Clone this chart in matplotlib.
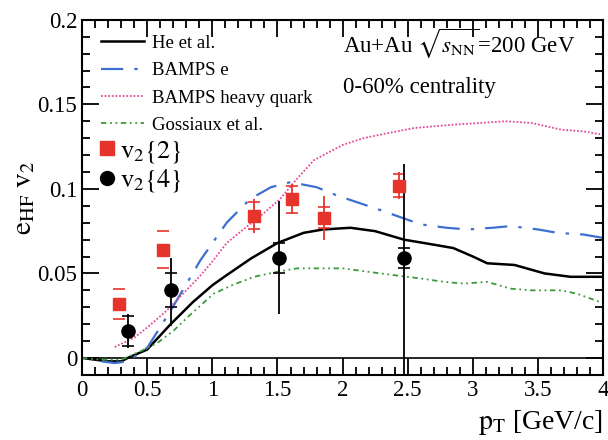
import numpy as np
import matplotlib
matplotlib.use("Agg")
import matplotlib.pyplot as plt
from matplotlib.ticker import MultipleLocator
from matplotlib.lines import Line2D

plt.rcParams['font.family'] = ['Liberation Serif', 'DejaVu Serif']
plt.rcParams['mathtext.fontset'] = 'stix'

# ---- data ----
he_x = [0.0, 0.1, 0.2, 0.3, 0.35, 0.5, 0.68, 0.85, 1.0, 1.11, 1.3, 1.5, 1.7, 1.85, 2.06, 2.25, 2.47, 2.7, 2.85, 3.0, 3.11, 3.32, 3.55, 3.75, 3.91, 4.0]
he_y = [0.0, -0.001, -0.002, -0.002, 0.0, 0.005, 0.02, 0.033, 0.043, 0.049, 0.059, 0.068, 0.074, 0.076, 0.077, 0.075, 0.070, 0.067, 0.065, 0.060, 0.056, 0.055, 0.050, 0.048, 0.048, 0.048]

bampse_x = [0.15, 0.25, 0.35, 0.5, 0.68, 0.91, 1.11, 1.29, 1.45, 1.6, 1.8, 1.96, 2.27, 2.6, 2.8, 2.96, 3.15, 3.29, 3.5, 3.65, 3.85, 4.0]
bampse_y = [-0.002, -0.003, -0.002, 0.006, 0.028, 0.058, 0.080, 0.094, 0.101, 0.104, 0.101, 0.096, 0.088, 0.079, 0.077, 0.076, 0.077, 0.078, 0.076, 0.074, 0.073, 0.071]

bampshq_x = [0.25, 0.4, 0.5, 0.65, 0.75, 0.9, 1.01, 1.11, 1.27, 1.4, 1.52, 1.65, 1.78, 2.0, 2.16, 2.35, 2.55, 2.85, 3.06, 3.25, 3.45, 3.68, 3.85, 4.0]
bampshq_y = [0.0065, 0.012, 0.018, 0.028, 0.036, 0.048, 0.058, 0.068, 0.078, 0.086, 0.094, 0.106, 0.117, 0.126, 0.130, 0.133, 0.136, 0.138, 0.139, 0.140, 0.139, 0.135, 0.134, 0.132]

goss_x = [0.0, 0.15, 0.3, 0.45, 0.58, 0.7, 0.85, 1.01, 1.15, 1.32, 1.5, 1.65, 1.78, 2.0, 2.29, 2.6, 2.78, 2.93, 3.11, 3.29, 3.45, 3.68, 3.8, 3.98]
goss_y = [0.0, -0.001, -0.001, 0.004, 0.009, 0.016, 0.027, 0.038, 0.043, 0.048, 0.051, 0.053, 0.053, 0.053, 0.050, 0.047, 0.045, 0.044, 0.045, 0.041, 0.040, 0.040, 0.038, 0.033]

v22_x = [0.28, 0.62, 1.32, 1.61, 1.86, 2.43]
v22_y = [0.032, 0.064, 0.084, 0.094, 0.083, 0.102]
v22_stat = [0.003, 0.003, 0.010, 0.009, 0.013, 0.008]
v22_sys = [0.009, 0.011, 0.008, 0.008, 0.006, 0.007]

v24_x = [0.35, 0.68, 1.51, 2.47]
v24_y = [0.016, 0.040, 0.059, 0.059]
v24_stat_lo = [0.010, 0.021, 0.033, 0.075]
v24_stat_hi = [0.010, 0.019, 0.034, 0.056]
v24_sys = [0.009, 0.010, 0.009, 0.006]

red = '#e6342c'
blue = '#3d6fcf'
pink = '#e34b9a'
green = '#3c9a3c'

fig = plt.figure(figsize=(6.08, 4.4), dpi=100)
ax = fig.add_axes([0.135, 0.148, 0.857, 0.807])

ax.axhline(0, color='black', lw=1.2, zorder=1)

l1, = ax.plot(he_x, he_y, color='black', lw=1.8)
l2, = ax.plot(bampse_x, bampse_y, color=blue, lw=1.6, dashes=(10, 5, 1.5, 5))
l3, = ax.plot(bampshq_x, bampshq_y, color=pink, lw=1.3, ls=(0, (1, 1)))
l4, = ax.plot(goss_x, goss_y, color=green, lw=1.3, dashes=(3, 2, 1, 2, 1, 2))

# systematic brackets
ax.errorbar(v22_x, v22_y, yerr=v22_sys, fmt='none', ecolor=red, elinewidth=0, capsize=4, capthick=1.2, zorder=3)
ax.errorbar(v24_x, v24_y, yerr=v24_sys, fmt='none', ecolor='black', elinewidth=0, capsize=4, capthick=1.2, zorder=3)
# stat
ax.errorbar(v22_x, v22_y, yerr=v22_stat, fmt='s', color=red, ms=8, elinewidth=1.3, capsize=0, zorder=4)
ax.errorbar(v24_x, v24_y, yerr=[v24_stat_lo, v24_stat_hi], fmt='o', color='black', ms=9.5, elinewidth=1.3, capsize=0, zorder=4)

ax.set_xlim(0, 4)
ax.set_ylim(-0.01, 0.2)
ax.xaxis.set_minor_locator(MultipleLocator(0.1))
ax.yaxis.set_minor_locator(MultipleLocator(0.01))
ax.set_xticks([0, 0.5, 1, 1.5, 2, 2.5, 3, 3.5, 4])
ax.set_xticklabels(['0', '0.5', '1', '1.5', '2', '2.5', '3', '3.5', '4'])
ax.set_yticks([0, 0.05, 0.1, 0.15, 0.2])
ax.set_yticklabels(['0', '0.05', '0.1', '0.15', '0.2'])
ax.tick_params(which='both', direction='in', top=True, right=True, labelsize=16.5, width=1.3)
ax.tick_params(which='major', length=12)
ax.tick_params(which='minor', length=6)
for s in ax.spines.values():
    s.set_linewidth(1.5)

ax.set_ylabel(r'$\mathrm{e}_{\mathrm{HF}}\ \mathrm{v}_2$', fontsize=21, labelpad=0)
ax.set_xlabel(r'$\mathrm{p}_{\mathrm{T}}$ [GeV/c]', fontsize=20, loc='right', labelpad=5)

ax.text(0.50, 0.905, r'Au+Au $\sqrt{s_{\mathrm{NN}}}$=200 GeV', transform=ax.transAxes, fontsize=16.5)
ax.text(0.50, 0.795, '0-60% centrality', transform=ax.transAxes, fontsize=16.5)

leg1 = ax.legend([l1, l2, l3, l4], ['He et al.', 'BAMPS e', 'BAMPS heavy quark', 'Gossiaux et al.'],
                 loc='upper left', bbox_to_anchor=(0.015, 0.99), frameon=False, fontsize=13.5,
                 handlelength=2.3, handletextpad=0.4, labelspacing=0.55, borderaxespad=0.2)
ax.add_artist(leg1)

m1 = Line2D([], [], ls='none', marker='s', color=red, ms=10)
m2 = Line2D([], [], ls='none', marker='o', color='black', ms=10)
leg2 = ax.legend([m1, m2], [r'$\mathrm{v}_2\{2\}$', r'$\mathrm{v}_2\{4\}$'],
                 loc='upper left', bbox_to_anchor=(0.03, 0.665), frameon=False, fontsize=19,
                 handlelength=0.7, handletextpad=0.15, labelspacing=0.1, borderaxespad=0.0, borderpad=0.0)

fig.savefig('out.png', dpi=100)
